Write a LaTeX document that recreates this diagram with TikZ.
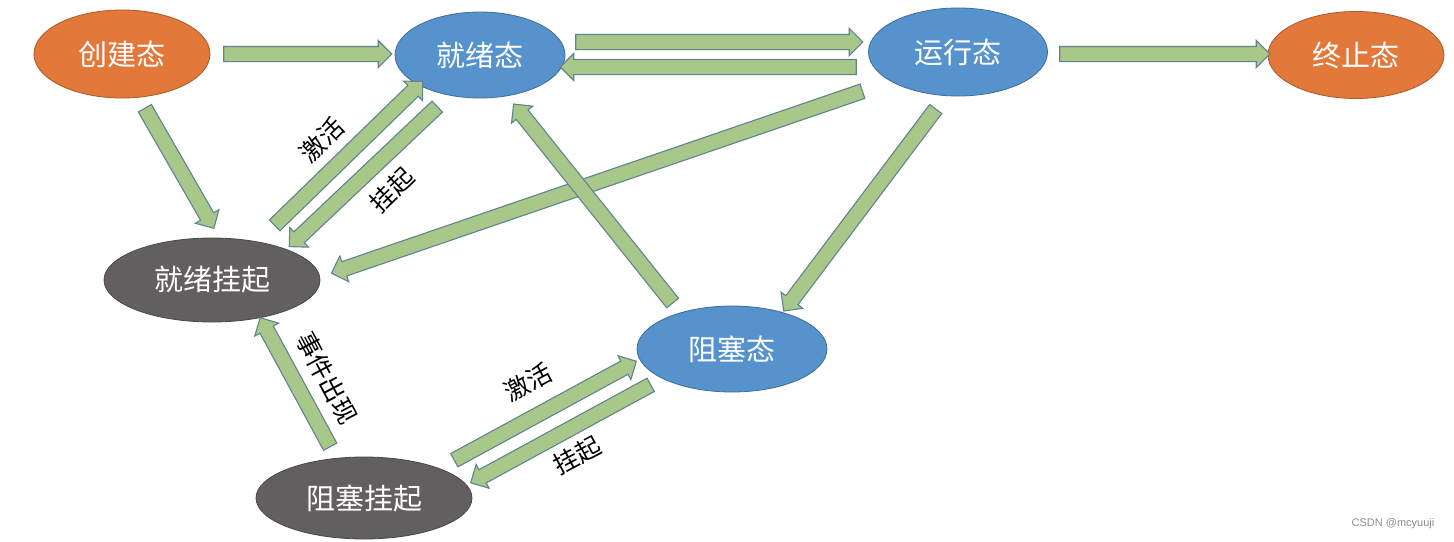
\documentclass[tikz,border=0pt]{standalone}
\usepackage{fontspec}
\newfontfamily\cjk{Noto Sans CJK SC}
\newfontfamily\wmfont{Liberation Sans}
\usetikzlibrary{shapes.geometric,shapes.arrows,calc}
\definecolor{orangeN}{RGB}{226,120,58}
\definecolor{blueN}{RGB}{86,146,204}
\definecolor{grayN}{RGB}{99,95,97}
\definecolor{arrowFill}{RGB}{168,200,138}
\definecolor{arrowLine}{RGB}{96,130,145}
\tikzset{
  state/.style={ellipse, draw=#1!75!black, fill=#1, line width=0.8pt, text=white,
    font=\cjk\fontsize{29}{32}\selectfont, inner sep=0pt},
  barrow/.style={single arrow, draw=arrowLine, fill=arrowFill, line width=1.1pt,
    inner sep=7pt, single arrow head extend=6pt, single arrow tip angle=90,
    minimum width=26pt, shape border uses incircle=false},
  lbl/.style={font=\cjk\fontsize{25}{28}\selectfont, text=black, inner sep=0pt},
}
\newcommand\barr[2]{\path let \p1=(#1), \p2=(#2), \n1={atan2(\y2-\y1,\x2-\x1)},
  \n2={veclen(\x2-\x1,\y2-\y1)} in node[barrow, minimum height=\n2, rotate=\n1]
  at ($(\p1)!0.5!(\p2)$) {};}
\begin{document}
\begin{tikzpicture}[x=1pt,y=-1pt]
\useasboundingbox[fill=white] (0,0) rectangle (1454,541);
% states
\node[state=orangeN, minimum width=176pt, minimum height=88pt] (cj) at (122,54) {创建态};
\node[state=blueN, minimum width=170pt, minimum height=86pt] (jx) at (480,55) {就绪态};
\node[state=blueN, minimum width=179pt, minimum height=88pt] (yx) at (958,52) {运行态};
\node[state=orangeN, minimum width=176pt, minimum height=87pt] (zz) at (1356,55) {终止态};
\node[state=grayN, minimum width=216pt, minimum height=84pt] (jg) at (212,280) {就绪挂起};
\node[state=blueN, minimum width=190pt, minimum height=86pt] (zs) at (732,349) {阻塞态};
\node[state=grayN, minimum width=216pt, minimum height=82pt] (zg) at (364,498) {阻塞挂起};
% arrow end points
\coordinate (a1s) at (220,54);  \coordinate (a1e) at (388,54);
\coordinate (a2s) at (572,42);  \coordinate (a2e) at (859,42);
\coordinate (a3s) at (860,67);  \coordinate (a3e) at (564,67);
\coordinate (a4s) at (1056,54); \coordinate (a4e) at (1266,54);
\coordinate (a5s) at (143,105); \coordinate (a5e) at (212,225);
\coordinate (a6s) at (272,228); \coordinate (a6e) at (420,84);
\coordinate (a7s) at (440,104); \coordinate (a7e) at (292,244);
\coordinate (a8s) at (866,90);  \coordinate (a8e) at (335,272);
\coordinate (a9s) at (675,306); \coordinate (a9e) at (516,107);
\coordinate (a10s) at (938,106); \coordinate (a10e) at (786,308);
\coordinate (a11s) at (332,450); \coordinate (a11e) at (262,321);
\coordinate (a12s) at (451,462); \coordinate (a12e) at (633,363);
\coordinate (a13s) at (654,383); \coordinate (a13e) at (474,481);
% arrows
\barr{a1s}{a1e}
\barr{a2s}{a2e}
\barr{a3s}{a3e}
\barr{a4s}{a4e}
\barr{a5s}{a5e}
\barr{a6s}{a6e}
\barr{a7s}{a7e}
\barr{a8s}{a8e}
\barr{a9s}{a9e}
\barr{a10s}{a10e}
\barr{a11s}{a11e}
\barr{a12s}{a12e}
\barr{a13s}{a13e}
% labels
\node[lbl, rotate=44] (l1) at (322,140) {激活};
\node[lbl, rotate=44] (l2) at (392,190) {挂起};
\node[lbl, rotate=-62] (l3) at (327,378) {事件出现};
\node[lbl, rotate=28] (l4) at (528,382) {激活};
\node[lbl, rotate=28] (l5) at (577,455) {挂起};
\node[font=\wmfont\fontsize{11}{13}\selectfont, text={rgb,255:red,140;green,140;blue,140}, inner sep=0pt] (wm) at (1393,524) {CSDN @mcyuuji};
\end{tikzpicture}
\end{document}
